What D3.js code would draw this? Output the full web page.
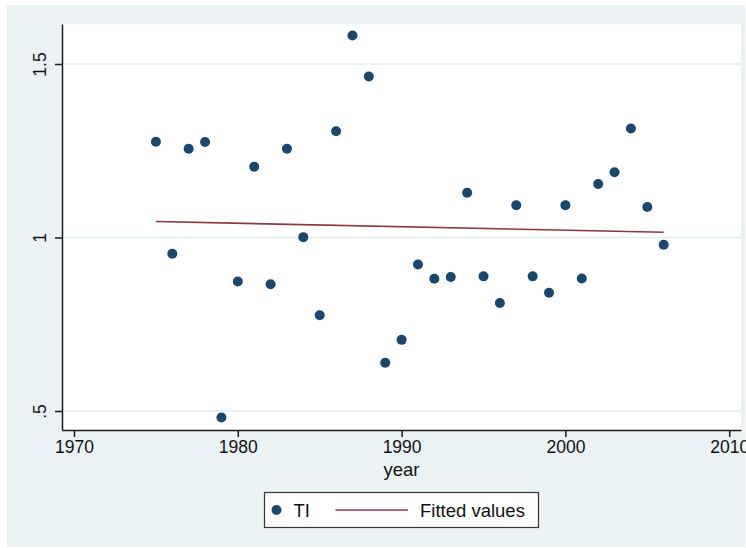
<!DOCTYPE html>
<html>
  <head>
    <meta charset="UTF-8" />
    <script src="https://cdnjs.cloudflare.com/ajax/libs/d3/7.8.5/d3.min.js"></script>
    <style>
      body {
        margin: 0;
        background: #fff;
      }
      text {
        font-family: "Liberation Sans", Arial, sans-serif;
        fill: #111;
      }
      .grid line {
        stroke: #e4eef0;
        stroke-width: 1.5;
      }
      .axis path.domain,
      .axis .tick line {
        stroke: #1a1a1a;
        stroke-width: 1.5;
      }
    </style>
  </head>
  <body>
    <svg id="chart" width="746" height="548"></svg>
    <script>
      // TI by year
      let years = [
        1975, 1976, 1977, 1978, 1979, 1980, 1981, 1982, 1983, 1984, 1985,
        1986, 1987, 1988, 1989, 1990, 1991, 1992, 1993, 1994, 1995, 1996,
        1997, 1998, 1999, 2000, 2001, 2002, 2003, 2004, 2005, 2006
      ];
      let tiValues = [
        1.276, 0.953, 1.256, 1.275, 0.481, 0.873, 1.204, 0.865, 1.256, 1.001, 0.776,
        1.306, 1.582, 1.464, 0.639, 0.705, 0.922, 0.881, 0.886, 1.129, 0.888, 0.811,
        1.093, 0.888, 0.841, 1.093, 0.882, 1.154, 1.188, 1.314, 1.088, 0.979
      ];

      // fitted line ends
      let fitYears = [1975, 2006];
      let fitValues = [1.046, 1.015];

      let xTicks = [1970, 1980, 1990, 2000, 2010];
      let yTicks = [0.5, 1, 1.5];
      let yTickLabels = [".5", "1", "1.5"];
      let legendLabels = ["TI", "Fitted values"];

      let svg = d3.select("#chart");

      // outer background
      svg.append("rect")
        .attr("x", 7).attr("y", 5)
        .attr("width", 738).attr("height", 542)
        .attr("fill", "#eaf2f3");

      let plotL = 62, plotR = 741, plotT = 24, plotB = 430;

      svg.append("rect")
        .attr("x", plotL).attr("y", plotT)
        .attr("width", plotR - plotL).attr("height", plotB - plotT)
        .attr("fill", "#fff");

      let xScale = d3.scaleLinear().domain([1969.267, 2010.72]).range([plotL, plotR]);
      let yScale = d3.scaleLinear().domain([0.4452, 1.6153]).range([plotB, plotT]);

      // grid lines
      svg.append("g")
        .attr("class", "grid")
        .selectAll("line")
        .data(yTicks)
        .enter()
        .append("line")
        .attr("x1", plotL)
        .attr("x2", plotR)
        .attr("y1", d => yScale(d))
        .attr("y2", d => yScale(d));

      // fitted line
      let fitLine = d3.line()
        .x(d => xScale(d[0]))
        .y(d => yScale(d[1]));

      svg.append("path")
        .datum(fitYears.map((y, i) => [y, fitValues[i]]))
        .attr("d", fitLine)
        .attr("fill", "none")
        .attr("stroke", "#90353b")
        .attr("stroke-width", 1.6);

      // points
      svg.append("g")
        .selectAll("circle")
        .data(years.map((y, i) => [y, tiValues[i]]))
        .enter()
        .append("circle")
        .attr("cx", d => xScale(d[0]))
        .attr("cy", d => yScale(d[1]))
        .attr("r", 5)
        .attr("fill", "#1a476f");

      // x axis
      let xAxis = svg.append("g")
        .attr("class", "axis")
        .attr("transform", `translate(0,${plotB})`)
        .call(d3.axisBottom(xScale).tickValues(xTicks).tickFormat(d3.format("d")).tickSize(7).tickSizeOuter(0).tickPadding(4));
      xAxis.selectAll("text").style("font-size", "17.5px");

      // y axis, labels turned
      let yAxis = svg.append("g")
        .attr("class", "axis")
        .attr("transform", `translate(${plotL},0)`)
        .call(d3.axisLeft(yScale).tickValues(yTicks).tickFormat((d, i) => yTickLabels[i]).tickSize(7).tickSizeOuter(0));
      yAxis.selectAll("text")
        .attr("x", 0)
        .attr("y", -16)
        .attr("dy", 0)
        .attr("text-anchor", "middle")
        .attr("transform", "rotate(-90)")
        .style("font-size", "17.5px");

      // axis title
      svg.append("text")
        .attr("x", (plotL + plotR) / 2)
        .attr("y", 476)
        .attr("text-anchor", "middle")
        .style("font-size", "18.5px")
        .text("year");

      // legend
      let legend = svg.append("g").attr("transform", "translate(264.5,492.5)");
      legend.append("rect")
        .attr("width", 274).attr("height", 35)
        .attr("fill", "#fff")
        .attr("stroke", "#333")
        .attr("stroke-width", 1.2);
      legend.append("circle")
        .attr("cx", 12).attr("cy", 17.5).attr("r", 5)
        .attr("fill", "#1a476f");
      legend.append("text")
        .attr("x", 29).attr("y", 24)
        .style("font-size", "18.5px")
        .text(legendLabels[0]);
      legend.append("line")
        .attr("x1", 71).attr("x2", 143.5)
        .attr("y1", 17.5).attr("y2", 17.5)
        .attr("stroke", "#90353b")
        .attr("stroke-width", 1.4);
      legend.append("text")
        .attr("x", 155.5).attr("y", 24)
        .style("font-size", "18.5px")
        .text(legendLabels[1]);
    </script>
  </body>
</html>
